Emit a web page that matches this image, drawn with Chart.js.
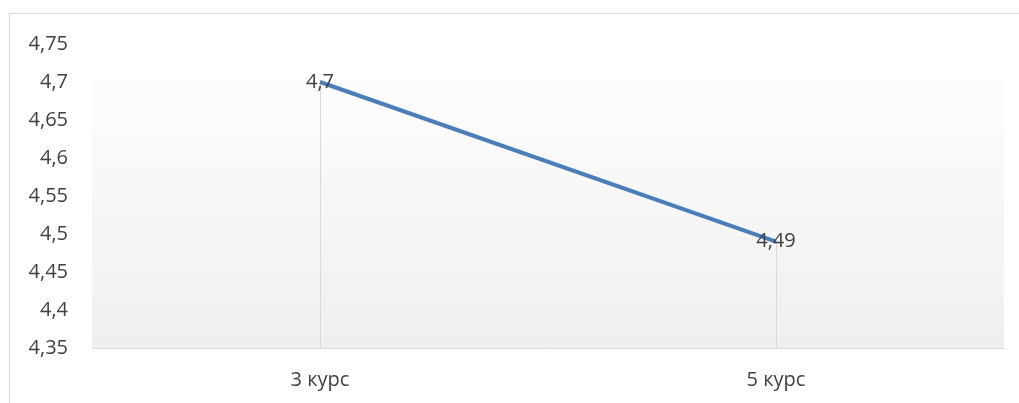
<!DOCTYPE html>
<html>
<head>
<meta charset="utf-8">
<script src="https://cdn.jsdelivr.net/npm/chart.js@4"></script>
<style>
	body { margin: 0; overflow: hidden; background: #fff; }
	.frame { position: absolute; left: 9px; top: 13px; width: 1100px; height: 500px; border: 1px solid #d9d9d9; }
	.wrap { position: absolute; left: 0; top: 0; width: 1019px; height: 403px; }
</style>
</head>
<body>
<div class="frame"></div>
<div class="wrap"><canvas id="courseChart" width="1019" height="403"></canvas></div>
<script>
const courses = ["3 курс", "5 курс"];
const scores = [4.7, 4.49];
const yMin = 4.35;
const yMax = 4.75;
const yStep = 0.05;

const fmt = (v) => parseFloat(v.toFixed(2)).toString().replace(".", ",");

// gradient panel behind the line
const panelPlugin = {
	id: "panel",
	beforeDatasetsDraw(chart) {
		const { ctx, chartArea, scales } = chart;
		const top = scales.y.getPixelForValue(Math.max(...scores)) - 3;
		const g = ctx.createLinearGradient(0, top, 0, chartArea.bottom);
		g.addColorStop(0, "#fdfdfd");
		g.addColorStop(1, "#efefef");
		ctx.save();
		ctx.fillStyle = g;
		ctx.fillRect(chartArea.left, top, chartArea.right - chartArea.left, chartArea.bottom - top);
		// drop lines
		ctx.strokeStyle = "#d9d9d9";
		ctx.lineWidth = 1;
		chart.getDatasetMeta(0).data.forEach((p) => {
			ctx.beginPath();
			ctx.moveTo(Math.round(p.x) + 0.5, p.y);
			ctx.lineTo(Math.round(p.x) + 0.5, chartArea.bottom);
			ctx.stroke();
		});
		ctx.restore();
	},
	afterDatasetsDraw(chart) {
		const { ctx } = chart;
		ctx.save();
		ctx.font = "20px 'Open Sans'";
		ctx.fillStyle = "#404040";
		ctx.textAlign = "center";
		ctx.textBaseline = "middle";
		chart.getDatasetMeta(0).data.forEach((p, i) => {
			ctx.fillText(fmt(scores[i]), p.x, p.y);
		});
		ctx.restore();
	},
};

new Chart(document.getElementById("courseChart"), {
	type: "line",
	data: {
		labels: courses,
		datasets: [
			{
				data: scores,
				borderColor: "#4a7ebb",
				borderWidth: 4,
				pointRadius: 0,
				tension: 0,
			},
		],
	},
	options: {
		responsive: false,
		animation: false,
		layout: { padding: { left: 0, right: 15, top: 44, bottom: 0 } },
		plugins: { legend: { display: false }, tooltip: { enabled: false } },
		scales: {
			x: {
				offset: true,
				grid: { display: true, drawOnChartArea: false, drawTicks: false },
				border: { display: true, color: "#d9d9d9", width: 1 },
				ticks: { color: "#404040", font: { family: "Open Sans", size: 20 }, padding: 20 },
				afterFit: (s) => { s.height = 403 - 348; },
			},
			y: {
				min: yMin,
				max: yMax,
				grid: { display: false, drawTicks: false },
				border: { display: false },
				ticks: {
					stepSize: yStep,
					color: "#404040",
					font: { family: "Open Sans", size: 20 },
					padding: 24,
					callback: (v) => fmt(v),
				},
				afterFit: (s) => { s.width = 92; },
			},
		},
	},
	plugins: [panelPlugin],
});
</script>
</body>
</html>
